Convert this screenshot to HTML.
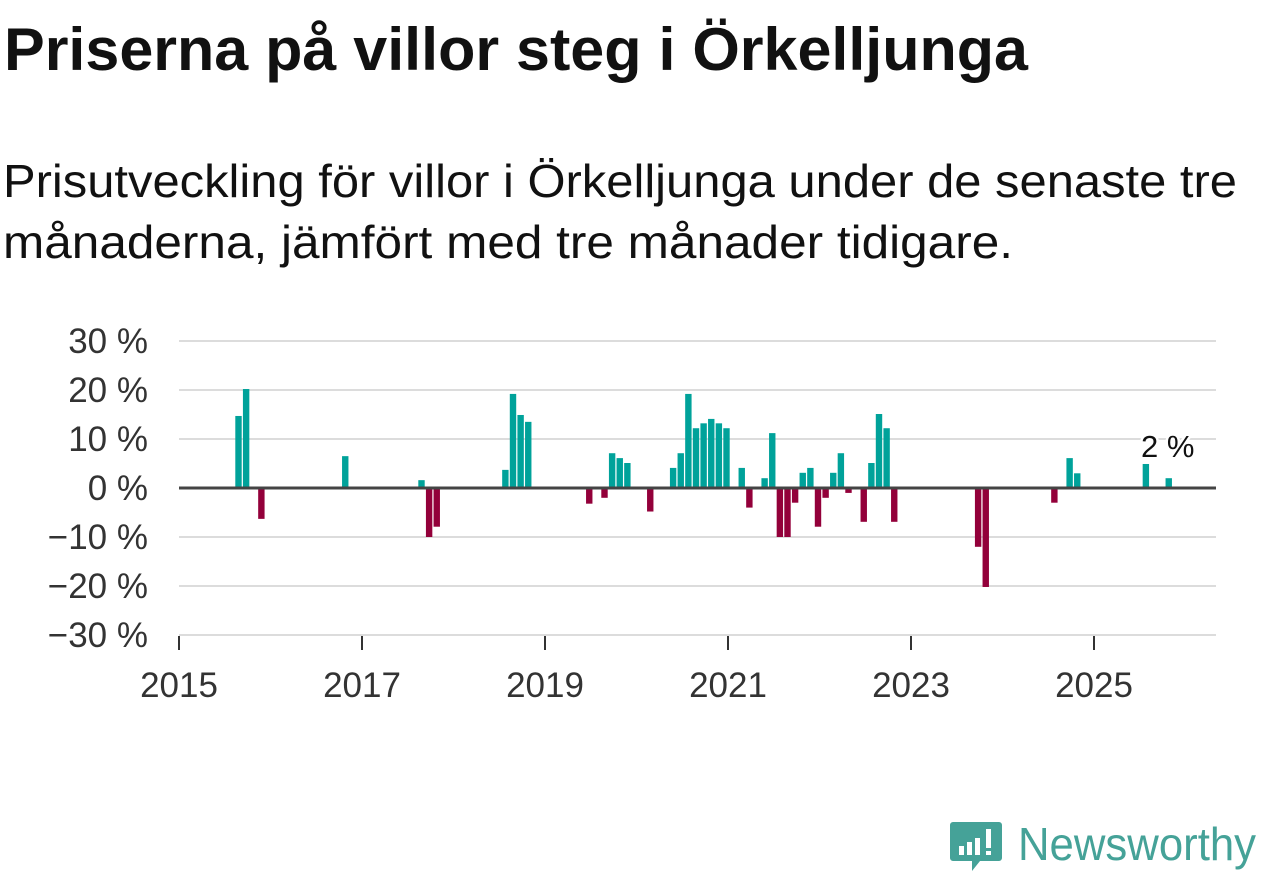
<!DOCTYPE html>
<html><head><meta charset="utf-8"><style>
html,body{margin:0;padding:0;background:#fff;}
svg{display:block;font-family:"Liberation Sans",sans-serif;}
</style></head><body>
<svg id="c" width="1262" height="879" viewBox="0 0 1262 879">
<text x="4" y="70" font-size="60" font-weight="bold" fill="#111" textLength="1024" lengthAdjust="spacingAndGlyphs">Priserna på villor steg i Örkelljunga</text>
<text x="3" y="197" font-size="46" fill="#111" textLength="1234" lengthAdjust="spacingAndGlyphs">Prisutveckling för villor i Örkelljunga under de senaste tre</text>
<text x="3" y="258" font-size="46" fill="#111" textLength="1010" lengthAdjust="spacingAndGlyphs">månaderna, jämfört med tre månader tidigare.</text>
<g id="grid"></g>
<g id="bars"></g>
<g id="axes"></g>
<g>
<path d="M953 822 h46 a3 3 0 0 1 3 3 v33 a3 3 0 0 1 -3 3 h-19 l-8 10 v-10 h-19 a3 3 0 0 1 -3 -3 v-33 a3 3 0 0 1 3 -3z" fill="#45a298"/>
<rect x="959" y="846" width="5" height="9" fill="#fff"/><rect x="967" y="842" width="5" height="13" fill="#fff"/><rect x="975" y="838" width="5" height="17" fill="#fff"/><rect x="986" y="829" width="5" height="19" fill="#fff"/><rect x="986" y="851" width="5" height="4" fill="#fff"/>
<text x="1018" y="860" font-size="46" fill="#45a298" textLength="238" lengthAdjust="spacingAndGlyphs">Newsworthy</text>
</g>
</svg>
<script>
const months = [8,9,11,22,32,33,34,43,44,45,46,54,56,57,58,59,62,65,66,67,68,69,70,71,72,74,75,77,78,79,80,81,82,83,84,85,86,87,88,90,91,92,93,94,105,106,115,117,118,127,130];
const values = [14.7,20.2,-6.3,6.5,1.6,-10,-7.9,3.7,19.2,14.9,13.5,-3.2,-2.0,7.1,6.1,5.1,-4.8,4.1,7.1,19.2,12.2,13.2,14.1,13.2,12.2,4.1,-4.0,2.0,11.2,-10,-10,-3.0,3.1,4.1,-7.9,-2.0,3.1,7.1,-1.0,-6.9,5.1,15.1,12.2,-6.9,-12,-20.2,-3.0,6.1,3.0,4.9,2.0];
const yTicks = [30,20,10,0,-10,-20,-30];
const yTickLabels = ["30 %","20 %","10 %","0 %","−10 %","−20 %","−30 %"];
const xTicks = [2015,2017,2019,2021,2023,2025];
const lastLabel = "2 %";
const NS="http://www.w3.org/2000/svg";
const X0=179, X1=1216, pxPerMonth=7.625, Y0=488, pxPerPct=4.9;
const xm = m => X0 + m*pxPerMonth - 1.5;
const xy = yr => X0 + (yr-2015)*12*pxPerMonth;
const y = v => Y0 - v*pxPerPct;
function mk(tag, attrs, parent){const e=document.createElementNS(NS,tag);for(const k in attrs)e.setAttribute(k,attrs[k]);parent.appendChild(e);return e;}
const grid=document.getElementById('grid'), bars=document.getElementById('bars'), axes=document.getElementById('axes');
yTicks.forEach((t,i)=>{
  if(t!==0){const l=mk('line',{x1:X0,x2:X1,y1:y(t),y2:y(t),stroke:'#dcdcdc','stroke-width':2},grid);
  
  }
  const tx=mk('text',{x:148,y:y(t)+12,'font-size':35,'text-anchor':'end',fill:'#333'},axes);
  tx.textContent=yTickLabels[i];
  
  
});
months.forEach((m,i)=>{
  const v=values[i];
  const r=mk('rect',{x:xm(m)-3.2,width:6.4,y:Math.min(y(v),Y0),height:Math.abs(y(v)-Y0),fill:v>=0?'#00a29a':'#93003a'},bars);
  
  
});
const zl=mk('line',{x1:X0,x2:X1,y1:Y0,y2:Y0,stroke:'#444','stroke-width':3},axes);


xTicks.forEach(yr=>{
  const tk=mk('line',{x1:xy(yr),x2:xy(yr),y1:636,y2:650,stroke:'#333','stroke-width':2},axes);
  
  
  const tx=mk('text',{x:xy(yr),y:697,'font-size':35,'text-anchor':'middle',fill:'#333'},axes);
  tx.textContent=yr;
  
  
});
const lm=months[months.length-1], lv=values[values.length-1];
const lab=mk('text',{x:xm(lm)-1,y:y(lv)-21,'font-size':31,'text-anchor':'middle',fill:'#111',stroke:'#fff','stroke-width':5,'paint-order':'stroke'},axes);
lab.textContent=lastLabel;


</script>
</body></html>
